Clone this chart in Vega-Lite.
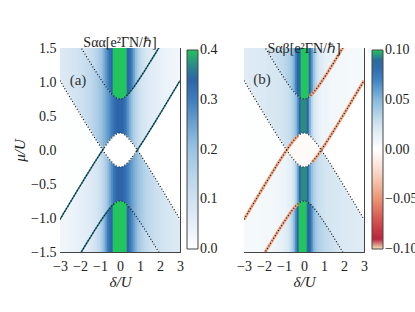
{
"$schema":"https://vega.github.io/schema/vega-lite/v6.json",
"background":"white",
"padding":{"left":12,"top":35,"right":0,"bottom":0},
"spacing":18,
"config":{
 "font":"Liberation Serif",
 "view":{"stroke":null},
 "axis":{"labelFont":"Liberation Serif","labelFontSize":14,"labelColor":"#222","titleFont":"Liberation Serif","titleFontSize":15,"titleFontStyle":"italic","titleFontWeight":"normal","titleColor":"#222","domainColor":"#444","tickColor":"#444","tickSize":-4,"labelPadding":8,"titlePadding":3,"grid":false,"zindex":1,"labelFlush":false,"labelOverlap":false},
 "axisX":{"labelPadding":11,"titlePadding":1},
 "legend":{"labelFont":"Liberation Serif","labelFontSize":14,"labelColor":"#222","gradientLength":199,"gradientThickness":11,"gradientStrokeColor":"#444","gradientStrokeWidth":1,"labelOffset":4,"orient":"none","direction":"vertical","labelOverlap":false,"padding":0},
 "title":{"font":"Liberation Serif","fontSize":14,"fontWeight":"normal","color":"#222","offset":-8.5}
},
"datasets":{
"lab":[{"p":"a","d":-2.1,"mu":1.03,"label":"(a)"},{"p":"b","d":-2.1,"mu":1.04,"label":"(b)"}],
"s":[
{"d":-3.0,"A":2.021,"B":-1.021,"C":1.021,"D":-2.021,"ta":0.08,"ua":0.07,"ma":0.004,"la":0.027,"ba":0.034,"tb":0.022,"ub":0.018,"mb":0.001,"lb":0.005,"bb":0.008},
{"d":-2.9,"A":1.971,"B":-0.971,"C":0.971,"D":-1.971,"ta":0.08,"ua":0.072,"ma":0.004,"la":0.028,"ba":0.035,"tb":0.022,"ub":0.018,"mb":0.001,"lb":0.0052,"bb":0.008},
{"d":-2.8,"A":1.922,"B":-0.922,"C":0.922,"D":-1.922,"ta":0.08,"ua":0.074,"ma":0.004,"la":0.03,"ba":0.036,"tb":0.022,"ub":0.018,"mb":0.001,"lb":0.0053,"bb":0.008},
{"d":-2.7,"A":1.873,"B":-0.873,"C":0.873,"D":-1.873,"ta":0.08,"ua":0.077,"ma":0.004,"la":0.031,"ba":0.037,"tb":0.022,"ub":0.019,"mb":0.001,"lb":0.0054,"bb":0.008},
{"d":-2.6,"A":1.824,"B":-0.824,"C":0.824,"D":-1.824,"ta":0.08,"ua":0.08,"ma":0.004,"la":0.033,"ba":0.038,"tb":0.022,"ub":0.019,"mb":0.001,"lb":0.0055,"bb":0.008},
{"d":-2.5,"A":1.775,"B":-0.775,"C":0.775,"D":-1.775,"ta":0.08,"ua":0.083,"ma":0.004,"la":0.035,"ba":0.039,"tb":0.022,"ub":0.019,"mb":0.001,"lb":0.0056,"bb":0.008},
{"d":-2.4,"A":1.726,"B":-0.726,"C":0.726,"D":-1.726,"ta":0.08,"ua":0.086,"ma":0.004,"la":0.037,"ba":0.04,"tb":0.022,"ub":0.02,"mb":0.001,"lb":0.0058,"bb":0.008},
{"d":-2.3,"A":1.677,"B":-0.677,"C":0.677,"D":-1.677,"ta":0.08,"ua":0.09,"ma":0.004,"la":0.039,"ba":0.041,"tb":0.022,"ub":0.02,"mb":0.001,"lb":0.006,"bb":0.008},
{"d":-2.2,"A":1.628,"B":-0.628,"C":0.628,"D":-1.628,"ta":0.08,"ua":0.094,"ma":0.004,"la":0.041,"ba":0.043,"tb":0.022,"ub":0.02,"mb":0.001,"lb":0.0062,"bb":0.008},
{"d":-2.1,"A":1.579,"B":-0.579,"C":0.579,"D":-1.579,"ta":0.08,"ua":0.098,"ma":0.004,"la":0.043,"ba":0.045,"tb":0.022,"ub":0.021,"mb":0.001,"lb":0.0064,"bb":0.008},
{"d":-2.0,"A":1.531,"B":-0.531,"C":0.531,"D":-1.531,"ta":0.08,"ua":0.102,"ma":0.004,"la":0.046,"ba":0.047,"tb":0.022,"ub":0.021,"mb":0.001,"lb":0.0066,"bb":0.0085},
{"d":-1.9,"A":1.482,"B":-0.482,"C":0.482,"D":-1.482,"ta":0.085,"ua":0.107,"ma":0.004,"la":0.049,"ba":0.05,"tb":0.023,"ub":0.021,"mb":0.001,"lb":0.0068,"bb":0.0086},
{"d":-1.8,"A":1.434,"B":-0.434,"C":0.434,"D":-1.434,"ta":0.09,"ua":0.112,"ma":0.004,"la":0.052,"ba":0.054,"tb":0.024,"ub":0.022,"mb":0.001,"lb":0.007,"bb":0.0088},
{"d":-1.7,"A":1.386,"B":-0.386,"C":0.386,"D":-1.386,"ta":0.095,"ua":0.118,"ma":0.004,"la":0.056,"ba":0.058,"tb":0.025,"ub":0.022,"mb":0.001,"lb":0.0072,"bb":0.009},
{"d":-1.6,"A":1.338,"B":-0.338,"C":0.338,"D":-1.338,"ta":0.1,"ua":0.125,"ma":0.004,"la":0.06,"ba":0.063,"tb":0.026,"ub":0.022,"mb":0.001,"lb":0.0075,"bb":0.0095},
{"d":-1.5,"A":1.291,"B":-0.291,"C":0.291,"D":-1.291,"ta":0.11,"ua":0.133,"ma":0.004,"la":0.065,"ba":0.07,"tb":0.027,"ub":0.023,"mb":0.001,"lb":0.0078,"bb":0.01},
{"d":-1.4,"A":1.243,"B":-0.243,"C":0.243,"D":-1.243,"ta":0.12,"ua":0.142,"ma":0.004,"la":0.07,"ba":0.078,"tb":0.028,"ub":0.023,"mb":0.001,"lb":0.008,"bb":0.011},
{"d":-1.3,"A":1.196,"B":-0.196,"C":0.196,"D":-1.196,"ta":0.13,"ua":0.152,"ma":0.004,"la":0.076,"ba":0.088,"tb":0.029,"ub":0.024,"mb":0.001,"lb":0.0085,"bb":0.012},
{"d":-1.2,"A":1.15,"B":-0.15,"C":0.15,"D":-1.15,"ta":0.145,"ua":0.163,"ma":0.004,"la":0.083,"ba":0.1,"tb":0.03,"ub":0.024,"mb":0.001,"lb":0.009,"bb":0.013},
{"d":-1.1,"A":1.104,"B":-0.104,"C":0.104,"D":-1.104,"ta":0.16,"ua":0.176,"ma":0.004,"la":0.092,"ba":0.118,"tb":0.031,"ub":0.025,"mb":0.001,"lb":0.0095,"bb":0.014},
{"d":-1.0,"A":1.059,"B":-0.059,"C":0.059,"D":-1.059,"ta":0.18,"ua":0.19,"ma":0.004,"la":0.104,"ba":0.14,"tb":0.032,"ub":0.026,"mb":0.001,"lb":0.01,"bb":0.016},
{"d":-0.9,"A":1.015,"B":-0.015,"C":0.015,"D":-1.015,"ta":0.2,"ua":0.205,"ma":0.004,"la":0.122,"ba":0.17,"tb":0.034,"ub":0.027,"mb":0.001,"lb":0.011,"bb":0.018},
{"d":-0.8,"A":0.972,"B":0.028,"C":-0.028,"D":-0.972,"ta":0.23,"ua":0.222,"ma":0,"la":0.145,"ba":0.21,"tb":0.036,"ub":0.028,"mb":-0.003,"lb":0.013,"bb":0.021},
{"d":-0.7,"A":0.93,"B":0.07,"C":-0.07,"D":-0.93,"ta":0.26,"ua":0.24,"ma":0,"la":0.172,"ba":0.255,"tb":0.039,"ub":0.03,"mb":-0.003,"lb":0.015,"bb":0.026},
{"d":-0.6,"A":0.891,"B":0.109,"C":-0.109,"D":-0.891,"ta":0.29,"ua":0.26,"ma":0,"la":0.205,"ba":0.3,"tb":0.043,"ub":0.033,"mb":-0.003,"lb":0.019,"bb":0.034},
{"d":-0.5,"A":0.854,"B":0.146,"C":-0.146,"D":-0.854,"ta":0.32,"ua":0.28,"ma":0,"la":0.24,"ba":0.33,"tb":0.052,"ub":0.038,"mb":-0.003,"lb":0.025,"bb":0.045},
{"d":-0.4,"A":0.82,"B":0.18,"C":-0.18,"D":-0.82,"ta":0.34,"ua":0.3,"ma":0,"la":0.275,"ba":0.34,"tb":0.068,"ub":0.046,"mb":-0.003,"lb":0.035,"bb":0.065},
{"d":-0.3,"A":0.792,"B":0.208,"C":-0.208,"D":-0.792,"ta":0.4,"ua":0.318,"ma":0,"la":0.308,"ba":0.4,"tb":0.085,"ub":0.062,"mb":-0.003,"lb":0.055,"bb":0.085},
{"d":-0.2,"A":0.769,"B":0.231,"C":-0.231,"D":-0.769,"ta":0.4,"ua":0.332,"ma":0,"la":0.33,"ba":0.4,"tb":0.09,"ub":0.085,"mb":-0.003,"lb":0.085,"bb":0.1},
{"d":-0.1,"A":0.755,"B":0.245,"C":-0.245,"D":-0.755,"ta":0.4,"ua":0.34,"ma":0,"la":0.34,"ba":0.4,"tb":0.1,"ub":0.095,"mb":-0.003,"lb":0.095,"bb":0.1},
{"d":0.0,"A":0.75,"B":0.25,"C":-0.25,"D":-0.75,"ta":0.4,"ua":0.342,"ma":0,"la":0.342,"ba":0.4,"tb":0.1,"ub":0.095,"mb":-0.003,"lb":0.095,"bb":0.1},
{"d":0.1,"A":0.755,"B":0.245,"C":-0.245,"D":-0.755,"ta":0.4,"ua":0.34,"ma":0,"la":0.34,"ba":0.4,"tb":0.1,"ub":0.095,"mb":-0.003,"lb":0.095,"bb":0.1},
{"d":0.2,"A":0.769,"B":0.231,"C":-0.231,"D":-0.769,"ta":0.4,"ua":0.33,"ma":0,"la":0.332,"ba":0.4,"tb":0.1,"ub":0.085,"mb":-0.003,"lb":0.085,"bb":0.09},
{"d":0.3,"A":0.792,"B":0.208,"C":-0.208,"D":-0.792,"ta":0.4,"ua":0.308,"ma":0,"la":0.318,"ba":0.4,"tb":0.085,"ub":0.055,"mb":-0.003,"lb":0.062,"bb":0.085},
{"d":0.4,"A":0.82,"B":0.18,"C":-0.18,"D":-0.82,"ta":0.34,"ua":0.275,"ma":0,"la":0.3,"ba":0.34,"tb":0.065,"ub":0.035,"mb":-0.003,"lb":0.046,"bb":0.068},
{"d":0.5,"A":0.854,"B":0.146,"C":-0.146,"D":-0.854,"ta":0.33,"ua":0.24,"ma":0,"la":0.28,"ba":0.32,"tb":0.045,"ub":0.025,"mb":-0.003,"lb":0.038,"bb":0.052},
{"d":0.6,"A":0.891,"B":0.109,"C":-0.109,"D":-0.891,"ta":0.3,"ua":0.205,"ma":0,"la":0.26,"ba":0.29,"tb":0.034,"ub":0.019,"mb":-0.003,"lb":0.033,"bb":0.043},
{"d":0.7,"A":0.93,"B":0.07,"C":-0.07,"D":-0.93,"ta":0.255,"ua":0.172,"ma":0,"la":0.24,"ba":0.26,"tb":0.026,"ub":0.015,"mb":-0.003,"lb":0.03,"bb":0.039},
{"d":0.8,"A":0.972,"B":0.028,"C":-0.028,"D":-0.972,"ta":0.21,"ua":0.145,"ma":0,"la":0.222,"ba":0.23,"tb":0.021,"ub":0.013,"mb":-0.003,"lb":0.028,"bb":0.036},
{"d":0.9,"A":1.015,"B":-0.015,"C":0.015,"D":-1.015,"ta":0.17,"ua":0.122,"ma":0,"la":0.205,"ba":0.2,"tb":0.018,"ub":0.011,"mb":0,"lb":0.027,"bb":0.034},
{"d":1.0,"A":1.059,"B":-0.059,"C":0.059,"D":-1.059,"ta":0.14,"ua":0.104,"ma":0,"la":0.19,"ba":0.18,"tb":0.016,"ub":0.01,"mb":0,"lb":0.026,"bb":0.032},
{"d":1.1,"A":1.104,"B":-0.104,"C":0.104,"D":-1.104,"ta":0.118,"ua":0.092,"ma":0,"la":0.176,"ba":0.16,"tb":0.014,"ub":0.0095,"mb":0,"lb":0.025,"bb":0.031},
{"d":1.2,"A":1.15,"B":-0.15,"C":0.15,"D":-1.15,"ta":0.1,"ua":0.083,"ma":0,"la":0.163,"ba":0.145,"tb":0.013,"ub":0.009,"mb":0,"lb":0.024,"bb":0.03},
{"d":1.3,"A":1.196,"B":-0.196,"C":0.196,"D":-1.196,"ta":0.088,"ua":0.076,"ma":0,"la":0.152,"ba":0.13,"tb":0.012,"ub":0.0085,"mb":0,"lb":0.024,"bb":0.029},
{"d":1.4,"A":1.243,"B":-0.243,"C":0.243,"D":-1.243,"ta":0.078,"ua":0.07,"ma":0,"la":0.142,"ba":0.12,"tb":0.011,"ub":0.008,"mb":0,"lb":0.023,"bb":0.028},
{"d":1.5,"A":1.291,"B":-0.291,"C":0.291,"D":-1.291,"ta":0.07,"ua":0.065,"ma":0,"la":0.133,"ba":0.11,"tb":0.01,"ub":0.0078,"mb":0,"lb":0.023,"bb":0.027},
{"d":1.6,"A":1.338,"B":-0.338,"C":0.338,"D":-1.338,"ta":0.063,"ua":0.06,"ma":0,"la":0.125,"ba":0.1,"tb":0.0095,"ub":0.0075,"mb":0,"lb":0.022,"bb":0.026},
{"d":1.7,"A":1.386,"B":-0.386,"C":0.386,"D":-1.386,"ta":0.058,"ua":0.056,"ma":0,"la":0.118,"ba":0.095,"tb":0.009,"ub":0.0072,"mb":0,"lb":0.022,"bb":0.025},
{"d":1.8,"A":1.434,"B":-0.434,"C":0.434,"D":-1.434,"ta":0.054,"ua":0.052,"ma":0,"la":0.112,"ba":0.09,"tb":0.0088,"ub":0.007,"mb":0,"lb":0.022,"bb":0.024},
{"d":1.9,"A":1.482,"B":-0.482,"C":0.482,"D":-1.482,"ta":0.05,"ua":0.049,"ma":0,"la":0.107,"ba":0.085,"tb":0.0086,"ub":0.0068,"mb":0,"lb":0.021,"bb":0.023},
{"d":2.0,"A":1.531,"B":-0.531,"C":0.531,"D":-1.531,"ta":0.047,"ua":0.046,"ma":0,"la":0.102,"ba":0.08,"tb":0.0085,"ub":0.0066,"mb":0,"lb":0.021,"bb":0.022},
{"d":2.1,"A":1.579,"B":-0.579,"C":0.579,"D":-1.579,"ta":0.045,"ua":0.043,"ma":0,"la":0.098,"ba":0.08,"tb":0.008,"ub":0.0064,"mb":0,"lb":0.021,"bb":0.022},
{"d":2.2,"A":1.628,"B":-0.628,"C":0.628,"D":-1.628,"ta":0.043,"ua":0.041,"ma":0,"la":0.094,"ba":0.08,"tb":0.008,"ub":0.0062,"mb":0,"lb":0.02,"bb":0.022},
{"d":2.3,"A":1.677,"B":-0.677,"C":0.677,"D":-1.677,"ta":0.041,"ua":0.039,"ma":0,"la":0.09,"ba":0.08,"tb":0.008,"ub":0.006,"mb":0,"lb":0.02,"bb":0.022},
{"d":2.4,"A":1.726,"B":-0.726,"C":0.726,"D":-1.726,"ta":0.04,"ua":0.037,"ma":0,"la":0.086,"ba":0.08,"tb":0.008,"ub":0.0058,"mb":0,"lb":0.02,"bb":0.022},
{"d":2.5,"A":1.775,"B":-0.775,"C":0.775,"D":-1.775,"ta":0.039,"ua":0.035,"ma":0,"la":0.083,"ba":0.08,"tb":0.008,"ub":0.0056,"mb":0,"lb":0.019,"bb":0.022},
{"d":2.6,"A":1.824,"B":-0.824,"C":0.824,"D":-1.824,"ta":0.038,"ua":0.033,"ma":0,"la":0.08,"ba":0.08,"tb":0.008,"ub":0.0055,"mb":0,"lb":0.019,"bb":0.022},
{"d":2.7,"A":1.873,"B":-0.873,"C":0.873,"D":-1.873,"ta":0.037,"ua":0.031,"ma":0,"la":0.077,"ba":0.08,"tb":0.008,"ub":0.0054,"mb":0,"lb":0.019,"bb":0.022},
{"d":2.8,"A":1.922,"B":-0.922,"C":0.922,"D":-1.922,"ta":0.036,"ua":0.03,"ma":0,"la":0.074,"ba":0.08,"tb":0.008,"ub":0.0053,"mb":0,"lb":0.018,"bb":0.022},
{"d":2.9,"A":1.971,"B":-0.971,"C":0.971,"D":-1.971,"ta":0.035,"ua":0.028,"ma":0,"la":0.072,"ba":0.08,"tb":0.008,"ub":0.0052,"mb":0,"lb":0.018,"bb":0.022},
{"d":3.0,"A":2.021,"B":-1.021,"C":1.021,"D":-2.021,"ta":0.034,"ua":0.027,"ma":0,"la":0.07,"ba":0.08,"tb":0.008,"ub":0.005,"mb":0,"lb":0.018,"bb":0.022}
]},
"hconcat":[
{"width":120,"height":204,"title":"Sαα[e²ΓN/ℏ]","data":{"name":"s"},
 "encoding":{"x":{"field":"d","type":"quantitative","scale":{"domain":[-3,3],"nice":false,"zero":false},"axis":null}},
 "layer":[
  {"mark":{"type":"rect","width":2.6,"clip":true},"encoding":{"y":{"field":"A","type":"quantitative","scale":{"domain":[-1.5,1.5],"nice":false,"zero":false},"axis":null},"y2":{"datum":1.5},
    "color":{"field":"ta","type":"quantitative","scale":{"domain":[0,0.05,0.1,0.15,0.2,0.25,0.3,0.34,0.37,0.4],"range":["#ffffff","#e5eff8","#d0e2f1","#b8d4ea","#9bc3e0","#6ea4d0","#3e7dbe","#2d64a9","#2b8a8a","#22c55e"],"clamp":true,"nice":false,"zero":false,"interpolate":"rgb"},
     "legend":{"title":null,"legendX":127,"legendY":2,"values":[0.0001,0.1,0.2,0.3,0.3999],"format":".1f"}}}},
  {"mark":{"type":"rect","width":2.6,"clip":true},"encoding":{"y":{"field":"B","type":"quantitative","scale":{"domain":[-1.5,1.5]},"axis":null},"y2":{"field":"A"},"color":{"field":"ua","type":"quantitative"}}},
  {"mark":{"type":"rect","width":2.6,"clip":true},"encoding":{"y":{"field":"D","type":"quantitative","scale":{"domain":[-1.5,1.5]},"axis":null},"y2":{"field":"C"},"color":{"field":"la","type":"quantitative"}}},
  {"mark":{"type":"rect","width":2.6,"clip":true},"encoding":{"y":{"field":"B","type":"quantitative","scale":{"domain":[-1.5,1.5]},"axis":null},"y2":{"field":"C"},"color":{"field":"ma","type":"quantitative"}}},
  {"mark":{"type":"rect","width":2.6,"clip":true},"encoding":{"y":{"field":"D","type":"quantitative","scale":{"domain":[-1.5,1.5]},"axis":null},"y2":{"datum":-1.5},"color":{"field":"ba","type":"quantitative"}}},
  {"transform":[{"filter":{"field":"d","range":[0.3,2.0]}}],"mark":{"type":"line","color":"#236f7f","strokeWidth":1.5,"clip":true},"encoding":{"y":{"field":"A","type":"quantitative","scale":{"domain":[-1.5,1.5]},"axis":null}}},
  {"transform":[{"filter":{"field":"d","range":[0.8,3.0]}}],"mark":{"type":"line","color":"#236f7f","strokeWidth":1.5,"clip":true},"encoding":{"y":{"field":"C","type":"quantitative","scale":{"domain":[-1.5,1.5]},"axis":null}}},
  {"transform":[{"filter":{"field":"d","range":[-3.0,-0.8]}}],"mark":{"type":"line","color":"#236f7f","strokeWidth":1.5,"clip":true},"encoding":{"y":{"field":"B","type":"quantitative","scale":{"domain":[-1.5,1.5]},"axis":null}}},
  {"transform":[{"filter":{"field":"d","range":[-2.0,-0.3]}}],"mark":{"type":"line","color":"#236f7f","strokeWidth":1.5,"clip":true},"encoding":{"y":{"field":"D","type":"quantitative","scale":{"domain":[-1.5,1.5]},"axis":null}}},
  {"transform":[{"fold":["A","B","C","D"],"as":["curve","mu"]}],"mark":{"type":"line","color":"#111","strokeWidth":1.2,"strokeDash":[1,2],"clip":true},
   "encoding":{"x":{"field":"d","type":"quantitative","scale":{"domain":[-3,3]},"axis":{"orient":"top","labels":false,"title":null,"values":[-3,-2,-1,0,1,2,3]}},
    "y":{"field":"mu","type":"quantitative","scale":{"domain":[-1.5,1.5]},"axis":{"orient":"right","labels":false,"title":null,"values":[-1.5,-1,-0.5,0,0.5,1,1.5]}},"detail":{"field":"curve"}}},
  {"data":{"name":"lab"},"transform":[{"filter":"datum.p == 'a'"}],"mark":{"type":"text","fontSize":15,"color":"#333","font":"Liberation Serif"},
   "encoding":{"x":{"field":"d","type":"quantitative","scale":{"domain":[-3,3]},"axis":{"orient":"bottom","title":"δ/U","values":[-3,-2,-1,0,1,2,3],"format":"d"}},
    "y":{"field":"mu","type":"quantitative","scale":{"domain":[-1.5,1.5]},"axis":{"orient":"left","title":"μ/U","values":[-1.5,-1,-0.5,0,0.5,1,1.5],"format":".1f"}},"text":{"field":"label"}}}
 ],
 "resolve":{"axis":{"x":"independent","y":"independent"}}
},
{"width":120,"height":204,"title":"Sαβ[e²ΓN/ℏ]","data":{"name":"s"},
 "encoding":{"x":{"field":"d","type":"quantitative","scale":{"domain":[-3,3],"nice":false,"zero":false},"axis":null}},
 "layer":[
  {"mark":{"type":"rect","width":2.6,"clip":true},"encoding":{"y":{"field":"A","type":"quantitative","scale":{"domain":[-1.5,1.5],"nice":false,"zero":false},"axis":null},"y2":{"datum":1.5},
    "color":{"field":"tb","type":"quantitative","scale":{"domain":[-0.1,-0.092,-0.075,-0.05,-0.025,0,0.025,0.05,0.07,0.088,0.095,0.1],"range":["#f2e8b8","#b8203a","#d0474a","#ec9373","#f9d4c2","#ffffff","#d3e5f1","#86b9dc","#3f83c1","#2a5ea4","#2b8c7e","#22c55e"],"clamp":true,"nice":false,"zero":false,"interpolate":"rgb"},
     "legend":{"title":null,"legendX":128,"legendY":2,"values":[-0.09999,-0.05,0,0.05,0.09999],"format":".2f"}}}},
  {"mark":{"type":"rect","width":2.6,"clip":true},"encoding":{"y":{"field":"B","type":"quantitative","scale":{"domain":[-1.5,1.5]},"axis":null},"y2":{"field":"A"},"color":{"field":"ub","type":"quantitative"}}},
  {"mark":{"type":"rect","width":2.6,"clip":true},"encoding":{"y":{"field":"D","type":"quantitative","scale":{"domain":[-1.5,1.5]},"axis":null},"y2":{"field":"C"},"color":{"field":"lb","type":"quantitative"}}},
  {"mark":{"type":"rect","width":2.6,"clip":true},"encoding":{"y":{"field":"B","type":"quantitative","scale":{"domain":[-1.5,1.5]},"axis":null},"y2":{"field":"C"},"color":{"field":"mb","type":"quantitative"}}},
  {"mark":{"type":"rect","width":2.6,"clip":true},"encoding":{"y":{"field":"D","type":"quantitative","scale":{"domain":[-1.5,1.5]},"axis":null},"y2":{"datum":-1.5},"color":{"field":"bb","type":"quantitative"}}},
  {"transform":[{"filter":{"field":"d","range":[0.3,2.0]}}],"mark":{"type":"line","color":"#f4a582","strokeWidth":3,"clip":true},"encoding":{"y":{"field":"A","type":"quantitative","scale":{"domain":[-1.5,1.5]},"axis":null}}},
  {"transform":[{"filter":{"field":"d","range":[0.4,3.0]}}],"mark":{"type":"line","color":"#f4a582","strokeWidth":3,"clip":true},"encoding":{"y":{"field":"C","type":"quantitative","scale":{"domain":[-1.5,1.5]},"axis":null}}},
  {"transform":[{"filter":{"field":"d","range":[-3.0,-0.3]}}],"mark":{"type":"line","color":"#f4a582","strokeWidth":3,"clip":true},"encoding":{"y":{"field":"B","type":"quantitative","scale":{"domain":[-1.5,1.5]},"axis":null}}},
  {"transform":[{"filter":{"field":"d","range":[-2.0,-0.3]}}],"mark":{"type":"line","color":"#f4a582","strokeWidth":3,"clip":true},"encoding":{"y":{"field":"D","type":"quantitative","scale":{"domain":[-1.5,1.5]},"axis":null}}},
  {"transform":[{"fold":["A","B","C","D"],"as":["curve","mu"]}],"mark":{"type":"line","color":"#111","strokeWidth":1.2,"strokeDash":[1,2],"clip":true},
   "encoding":{"x":{"field":"d","type":"quantitative","scale":{"domain":[-3,3]},"axis":{"orient":"top","labels":false,"title":null,"values":[-3,-2,-1,0,1,2,3]}},
    "y":{"field":"mu","type":"quantitative","scale":{"domain":[-1.5,1.5]},"axis":{"orient":"right","labels":false,"title":null,"values":[-1.5,-1,-0.5,0,0.5,1,1.5]}},"detail":{"field":"curve"}}},
  {"data":{"name":"lab"},"transform":[{"filter":"datum.p == 'b'"}],"mark":{"type":"text","fontSize":15,"color":"#333","font":"Liberation Serif"},
   "encoding":{"x":{"field":"d","type":"quantitative","scale":{"domain":[-3,3]},"axis":{"orient":"bottom","title":"δ/U","values":[-3,-2,-1,0,1,2,3],"format":"d"}},
    "y":{"field":"mu","type":"quantitative","scale":{"domain":[-1.5,1.5]},"axis":{"orient":"left","labels":false,"title":null,"values":[-1.5,-1,-0.5,0,0.5,1,1.5]}},"text":{"field":"label"}}}
 ],
 "resolve":{"axis":{"x":"independent","y":"independent"}}
}
],
"resolve":{"scale":{"color":"independent"},"legend":{"color":"independent"}}
}
